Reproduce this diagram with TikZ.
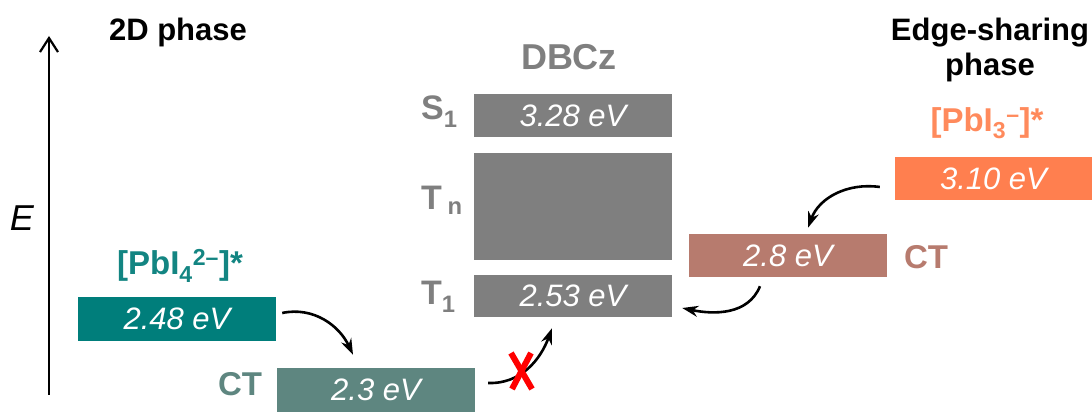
\documentclass[tikz,border=0pt]{standalone}
\usepackage{fontspec}
\setmainfont{Liberation Sans}
\usetikzlibrary{arrows.meta,calc}
\definecolor{pbfour}{HTML}{007E7B}
\definecolor{pbfourtext}{HTML}{138582}
\definecolor{ctlow}{HTML}{5E8680}
\definecolor{dbcz}{HTML}{7F7F7F}
\definecolor{pbthree}{HTML}{FF7F4F}
\definecolor{pbthreetext}{HTML}{FF8A5C}
\definecolor{cthigh}{HTML}{B77B6E}
\begin{document}
\begin{tikzpicture}[x=1pt,y=1pt,
  level/.style={rectangle, inner sep=0pt, minimum width=198pt, minimum height=43pt,
    text=white, font=\fontsize{31}{32}\selectfont\itshape},
  head/.style={font=\fontsize{31}{33}\selectfont\bfseries, align=center},
  species/.style={font=\fontsize{33}{35}\selectfont\bfseries},
  statelbl/.style={font=\fontsize{34}{36}\selectfont\bfseries, text=dbcz, anchor=base west, inner sep=0pt},
  hop/.style={line width=2.6pt, -{Stealth[length=16pt,width=11pt]}},
]
\useasboundingbox (0,0) rectangle (1092,412);

% energy axis
\coordinate (axbot) at (49,17);
\coordinate (axtop) at (49,376);
\draw[line width=2.2pt, -{Straight Barb[length=14pt,width=18pt,line width=2.2pt]}] (axbot) -- (axtop);
\node[font=\fontsize{36}{38}\selectfont\itshape] (elabel) at (22,194) {E};

% 2D phase
\node[head] (h2d) at (178,380) {2D phase};
\node[species, text=pbfourtext] (pb4) at (180,146) {[PbI\textsubscript{4}\textsuperscript{2–}]*};
\node[level, fill=pbfour, minimum height=44pt] (b248) at (177,93) {2.48 eV};
\node[level, fill=ctlow, minimum height=44pt] (b23) at (376,22) {2.3 eV};
\node[species, text=ctlow] (ctl) at (240,28) {CT};

% DBCz levels
\node[font=\fontsize{36}{38}\selectfont\bfseries, text=dbcz] (dbczlbl) at (569,355) {DBCz};
\node[level, fill=dbcz] (s1) at (573,296.5) {3.28 eV};
\node[level, fill=dbcz, minimum height=107pt] (tn) at (573,205.5) {};
\node[level, fill=dbcz, minimum height=42pt] (t1) at (573,116) {2.53 eV};
\node[statelbl] (s1lbl) at (421,292) {S\textsubscript{1}};
\node[statelbl] (tnlbl) at (421,202) {T\,\textsubscript{n}};
\node[statelbl] (t1lbl) at (421,107) {T\textsubscript{1}};

% edge-sharing phase
\node[head] (hes) at (990,362) {Edge-sharing\\[2pt]phase};
\node[species, text=pbthreetext] (pb3) at (987,289) {[PbI\textsubscript{3}\textsuperscript{–}]*};
\node[level, fill=pbthree, minimum width=197pt] (b310) at (993.5,233.5) {3.10 eV};
\node[level, fill=cthigh] (b28) at (788,156.5) {2.8 eV};
\node[species, text=cthigh] (ctr) at (926,155) {CT};

% transfer arrows
\draw[hop] ($(b248.east)+(6,6)$) to[out=12, in=115] ($(b23.north)+(-23,13)$);
\draw[hop] ($(b23.east)+(13,7)$) to[out=-2, in=-110] ($(t1.south)+(-21,-11)$);
\draw[hop] ($(b310.west)+(-15,-8.5)$) to[out=172, in=70] ($(b28.north)+(20,6)$);
\draw[hop] ($(b28.south)+(-28,-9)$) to[out=-112, in=-12] ($(t1.east)+(10,-12)$);

% blocked channel
\coordinate (xc) at (521,41);
\draw[red, line width=6pt] ($(xc)+(-9,-18)$) -- ($(xc)+(10,18)$);
\draw[red, line width=6pt] ($(xc)+(-10,18)$) -- ($(xc)+(11,-18)$);
\end{tikzpicture}
\end{document}
